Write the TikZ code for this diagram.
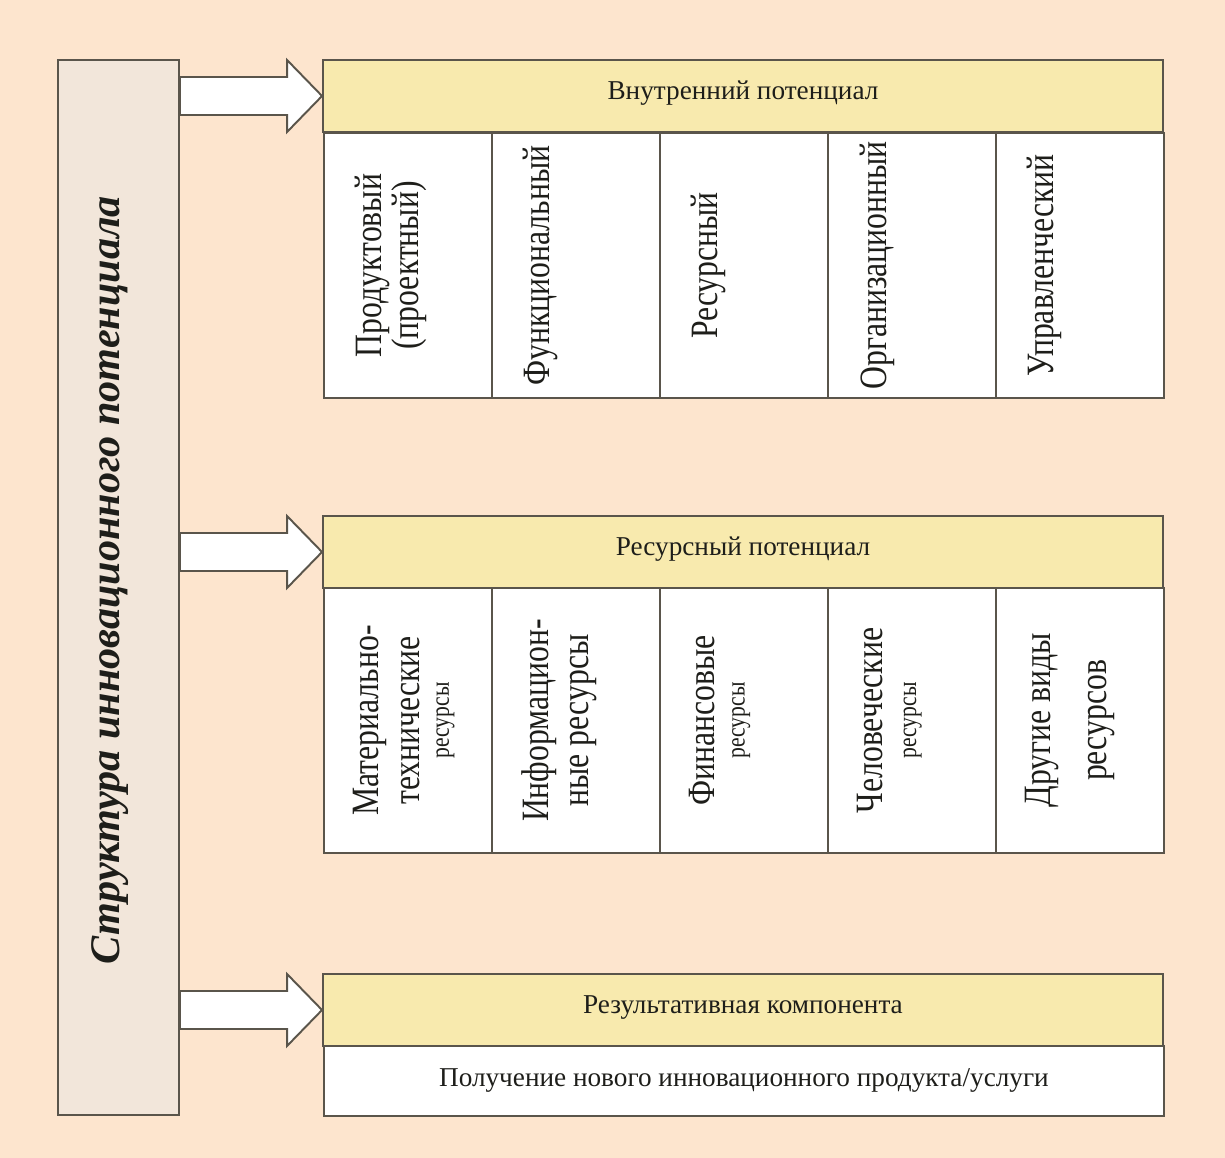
\documentclass[tikz,border=0pt]{standalone}
\usepackage{fontspec}
\setmainfont{Liberation Serif}
\newfontfamily\condfont{Liberation Serif}[FakeStretch=0.82]
\usetikzlibrary{calc}
\definecolor{bg}{HTML}{FDE5CE}
\definecolor{leftfill}{HTML}{F2E6DA}
\definecolor{hdrfill}{HTML}{F8EAAE}
\definecolor{edge}{HTML}{5A554B}
\definecolor{ink}{HTML}{1E1E1A}
\newcommand{\smallres}{\fontsize{15}{16}\selectfont}
\newcommand{\base}[2]{\raisebox{#1}[0pt][0pt]{#2}}
\begin{document}
\begin{tikzpicture}[
  frame/.style={draw=edge, line width=1.1pt},
  hdr/.style={frame, fill=hdrfill, minimum width=16.8cm, minimum height=1.44cm, inner sep=0pt, text=ink, font=\fontsize{15.5}{18}\selectfont},
  cell/.style={frame, fill=white, minimum width=3.36cm, minimum height=5.3cm, anchor=north west, inner sep=0pt},
  vtxt/.style={rotate=90, anchor=north, inner sep=0pt, align=center, text=ink, font=\condfont\fontsize{22}{21}\selectfont},
  fat/.style={draw=edge, line width=1.1pt, fill=white, line join=miter}
]
\fill[bg] (0,0) rectangle (24.5,-23.16);
\useasboundingbox (0,0) rectangle (24.5,-23.16);

% left box
\node[frame, fill=leftfill, minimum width=2.42cm, minimum height=21.1cm, inner sep=0pt] (lb) at (2.37,-11.75) {};
\node[rotate=90, inner sep=0pt, text=ink, font=\bfseries\itshape\fontsize{24}{28}\selectfont] (title) at (2.2,-11.6) {Структура инновационного потенциала};

% headers
\node[hdr] (h1) at (14.86,-1.92) {\base{-2pt}{Внутренний потенциал}};
\node[hdr] (h2) at (14.86,-11.04) {\base{-2pt}{Ресурсный потенциал}};
\node[hdr] (h3) at (14.86,-20.2) {\base{-2pt}{Результативная компонента}};

% cells
\foreach \k in {0,...,4} {
  \node[cell] (c1\k) at ({6.46+3.36*\k},-2.64) {};
  \node[cell] (c2\k) at ({6.46+3.36*\k},-11.74) {};
}
\node[vtxt] (t10) at ($(c10.west)+(0.64,0)$) {Продуктовый\\(проектный)};
\node[vtxt] (t11) at ($(c11.west)+(0.64,0)$) {Функциональный};
\node[vtxt] (t12) at ($(c12.west)+(0.64,0)$) {Ресурсный};
\node[vtxt] (t13) at ($(c13.west)+(0.66,0)$) {Организационный};
\node[vtxt] (t14) at ($(c14.west)+(0.64,0)$) {Управленческий};

\node[vtxt] (t20) at ($(c20.west)+(0.6,0)$) {Материально-\\[2pt]технические\\[-4pt]{\smallres ресурсы}};
\node[vtxt] (t21) at ($(c21.west)+(0.6,0)$) {Информацион-\\[2pt]ные ресурсы};
\node[vtxt] (t22) at ($(c22.west)+(0.6,0)$) {Финансовые\\[-4pt]{\smallres ресурсы}};
\node[vtxt] (t23) at ($(c23.west)+(0.6,0)$) {Человеческие\\[-2pt]{\smallres ресурсы}};
\node[vtxt] (t24) at ($(c24.west)+(0.6,0)$) {Другие виды\\[11pt]ресурсов};

% result body
\node[frame, fill=white, minimum width=16.8cm, minimum height=1.4cm, anchor=north west, inner sep=0pt, text=ink, font=\fontsize{15.5}{18}\selectfont] (r) at (6.46,-20.9) {\base{-3pt}{Получение нового инновационного продукта/услуги}};

% fat arrows
\foreach \h in {h1,h2,h3} {
  \coordinate (t) at (\h.west);
  \draw[fat] ($(lb.east|-t)+(0,0.38)$) -- ($(t)+(-0.7,0.38)$) -- ($(t)+(-0.7,0.72)$) -- (t)
    -- ($(t)+(-0.7,-0.72)$) -- ($(t)+(-0.7,-0.38)$) -- ($(lb.east|-t)+(0,-0.38)$) -- cycle;
}
\end{tikzpicture}
\end{document}
